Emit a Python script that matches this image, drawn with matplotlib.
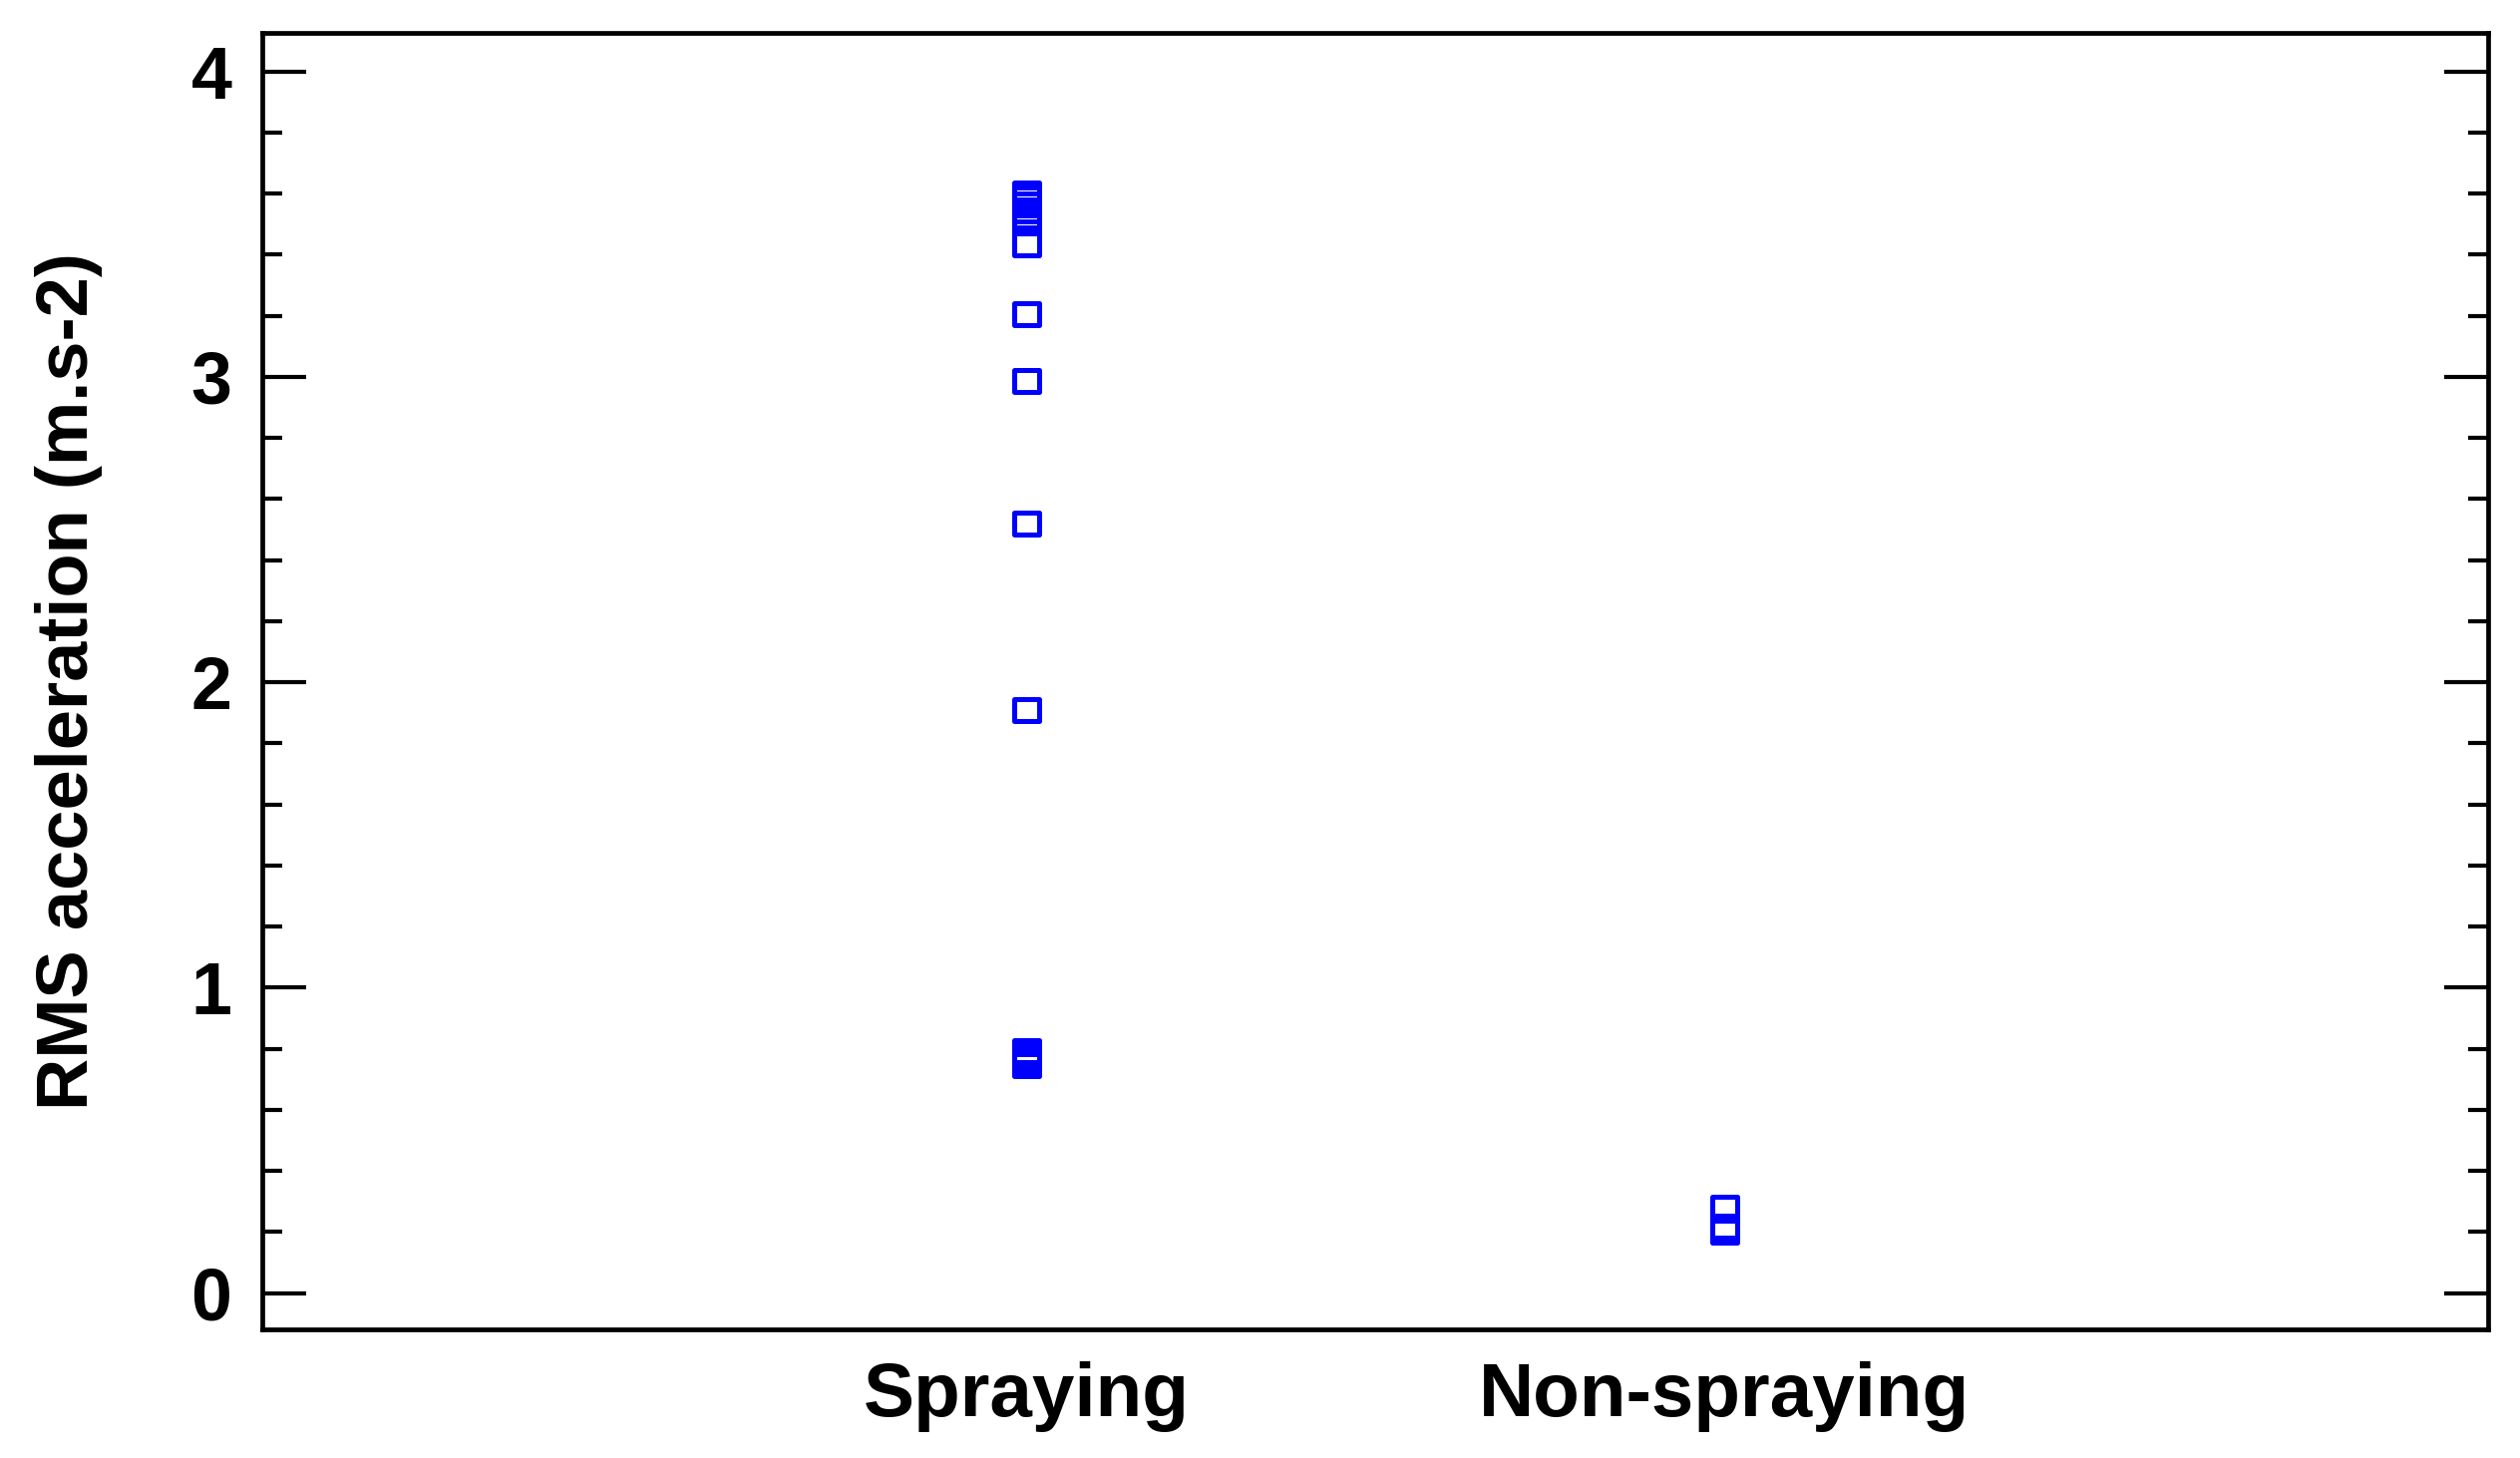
import matplotlib
matplotlib.use("Agg")
import matplotlib.pyplot as plt
from matplotlib.path import Path
from matplotlib.ticker import MultipleLocator
import numpy as np

# ---- data ----
categories = ["Spraying", "Non-spraying"]
spraying = [3.600, 3.584, 3.563, 3.544, 3.526, 3.509, 3.435,
            3.205, 2.988, 2.520, 1.909,
            0.792, 0.7755, 0.7615, 0.745]
non_spraying = [0.278, 0.218, 0.200]
y_label = "RMS acceleration (m.s-2)"
y_ticks = [0, 1, 2, 3, 4]

plt.rcParams['font.family'] = ['Liberation Sans', 'DejaVu Sans']

DPI = 100
fig = plt.figure(figsize=(25.27, 14.62), dpi=DPI)
ax = fig.add_axes([263/2527, 1 - 1333/1462, (2495-263)/2527, (1333-33)/1462])

# slightly wide rectangle marker
w = 1.136
rect = Path([(-w, -1), (w, -1), (w, 1), (-w, 1), (-w, -1)],
            [Path.MOVETO, Path.LINETO, Path.LINETO, Path.LINETO, Path.CLOSEPOLY])

series = [spraying, non_spraying]
for i, vals in enumerate(series):
    xs = np.full(len(vals), i + 1.0)
    ax.plot(xs, vals, linestyle='none', marker=rect, markersize=18,
            markerfacecolor='none', markeredgecolor='#0000ff', markeredgewidth=3.6)

ax.set_xlim(-0.095, 3.094)
ax.set_ylim(-0.119, 4.126)
ax.set_xticks([1, 2])
ax.set_xticklabels(categories, fontsize=55, fontweight='bold')
ax.set_yticks(y_ticks)
ax.set_yticklabels([str(t) for t in y_ticks], fontsize=53, fontweight='bold')
ax.yaxis.set_minor_locator(MultipleLocator(0.2))

ax.tick_params(axis='x', length=0, pad=23)
ax.tick_params(axis='y', which='major', direction='in', length=32, width=3,
               left=True, right=True, pad=22)
ax.tick_params(axis='y', which='minor', direction='in', length=14.4, width=3,
               left=True, right=True)

for sp in ax.spines.values():
    sp.set_linewidth(3.4)
    sp.set_color('black')

ax.set_ylabel(y_label, fontsize=52, fontweight='bold', labelpad=64)

fig.savefig("out.png", dpi=DPI)
